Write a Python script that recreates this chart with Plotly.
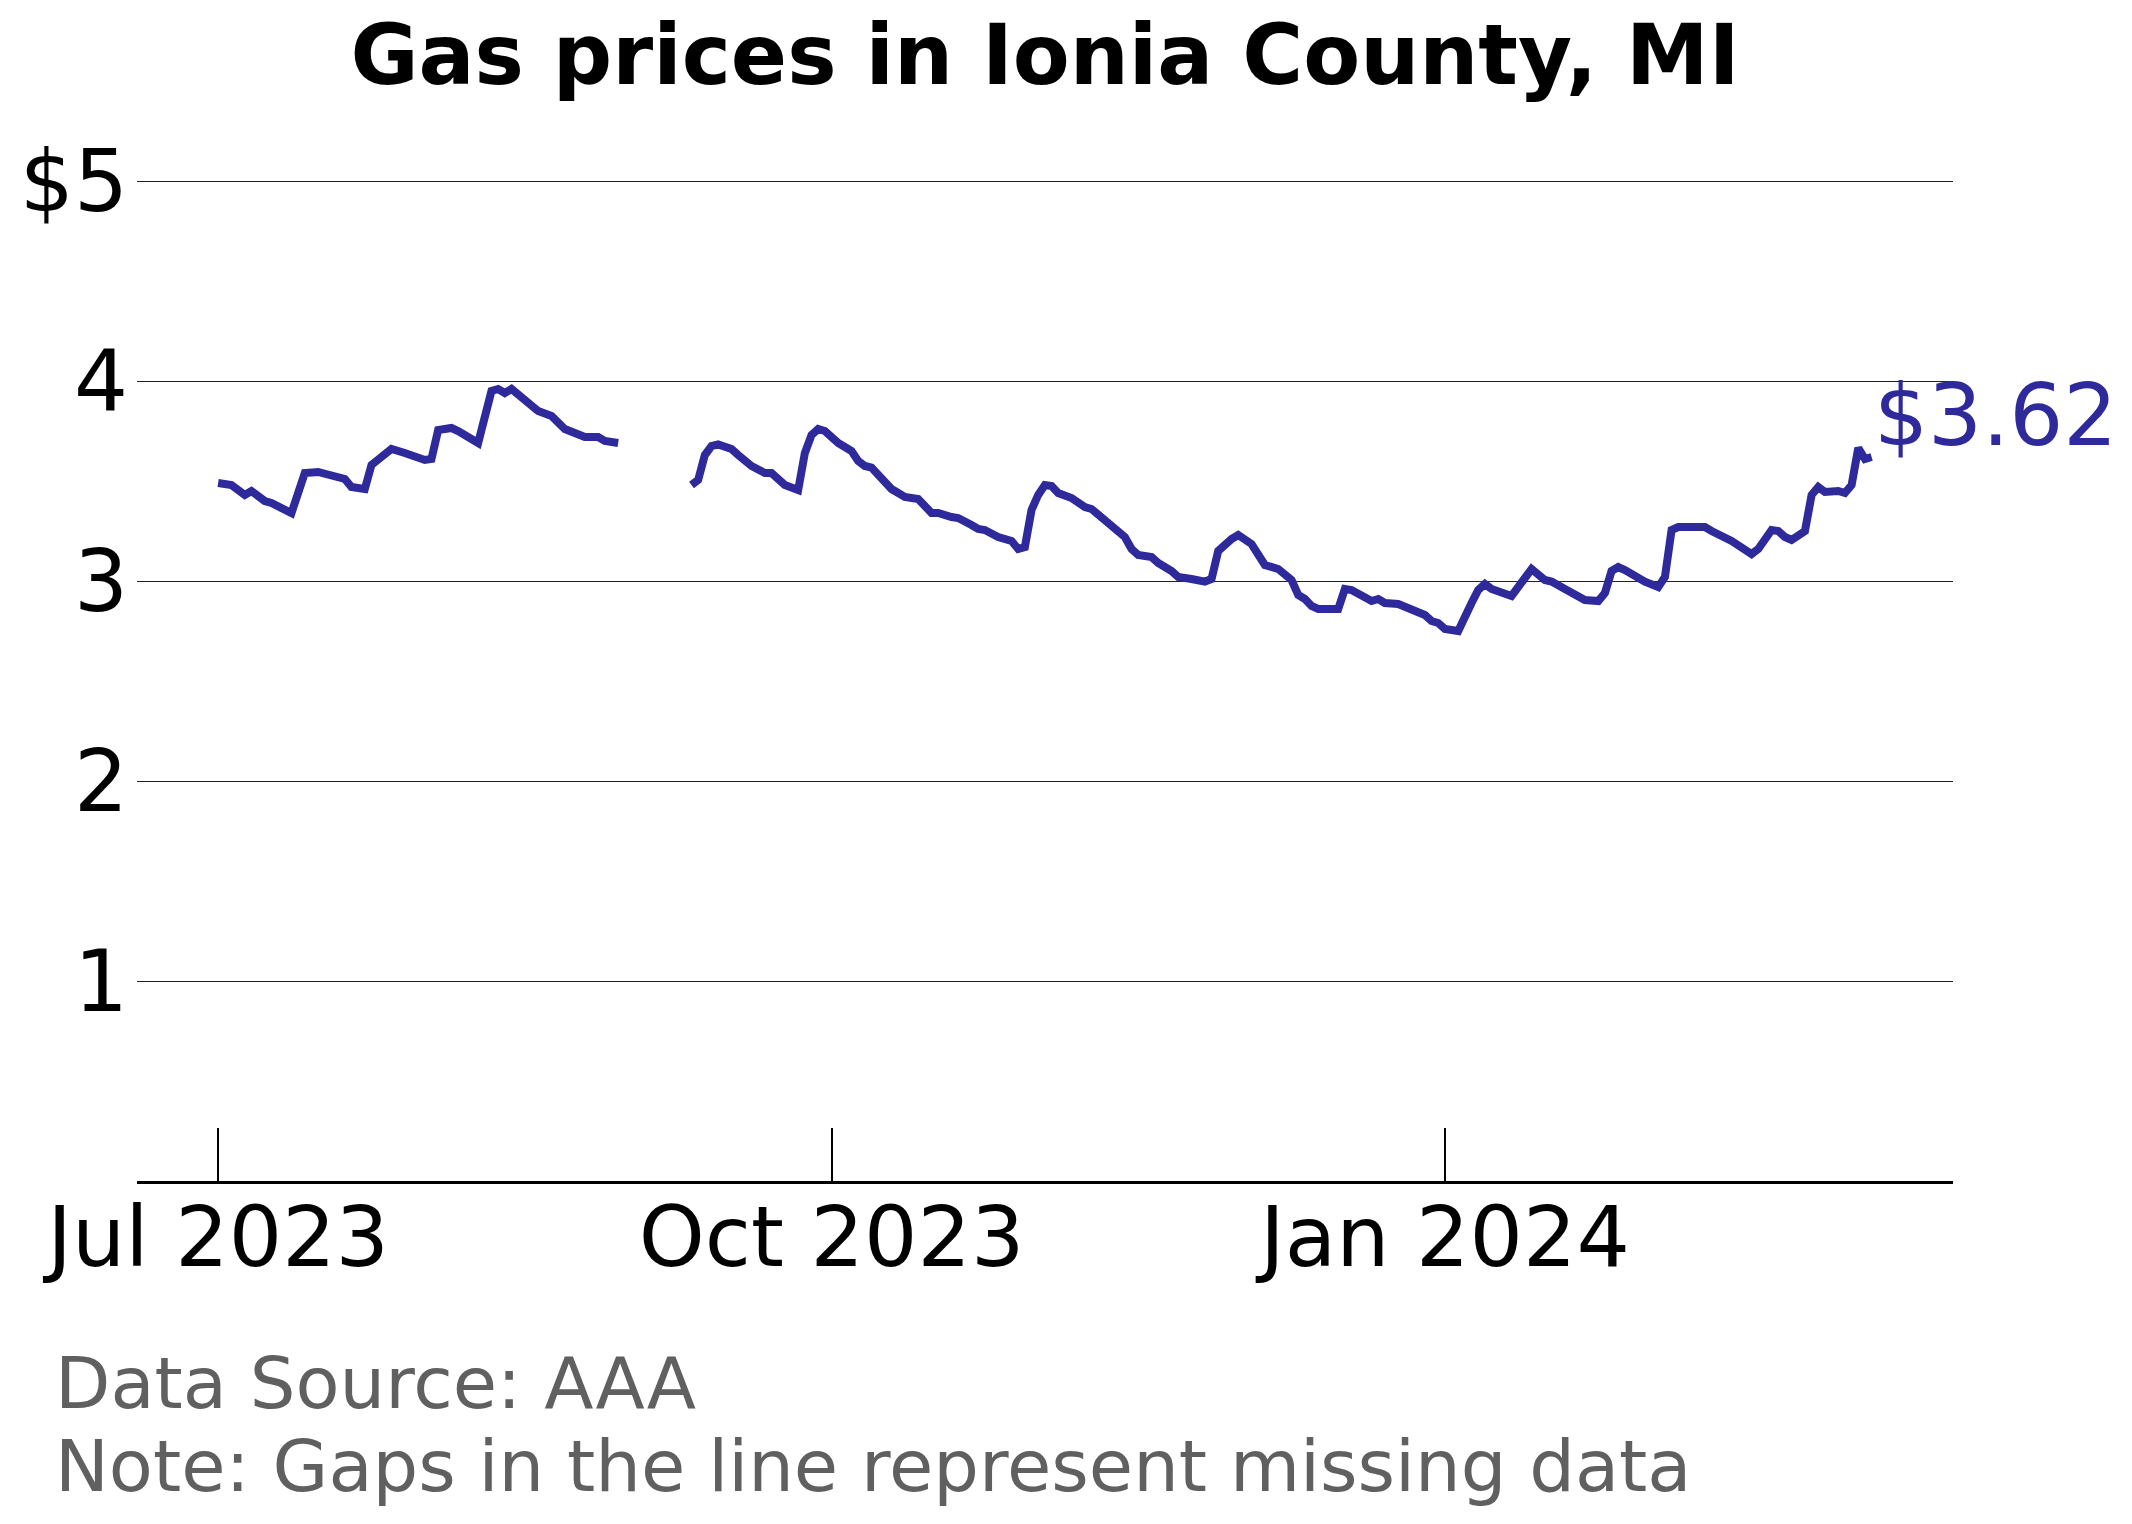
import plotly.graph_objects as go

# daily average regular gas price, Ionia County MI (AAA); None marks the data gap
dates = [
    "2023-07-01", "2023-07-03", "2023-07-05", "2023-07-06", "2023-07-08", "2023-07-09",
    "2023-07-12", "2023-07-14", "2023-07-16", "2023-07-18", "2023-07-20", "2023-07-21",
    "2023-07-23", "2023-07-24", "2023-07-25", "2023-07-27", "2023-07-29", "2023-08-01",
    "2023-08-02", "2023-08-03", "2023-08-05", "2023-08-06", "2023-08-09", "2023-08-11",
    "2023-08-12", "2023-08-13", "2023-08-14", "2023-08-16", "2023-08-18", "2023-08-20",
    "2023-08-22", "2023-08-25", "2023-08-27", "2023-08-28", "2023-08-30",
    "2023-09-05",
    "2023-09-10", "2023-09-11", "2023-09-12", "2023-09-13", "2023-09-14", "2023-09-16",
    "2023-09-17", "2023-09-19", "2023-09-21", "2023-09-22", "2023-09-24", "2023-09-26",
    "2023-09-27", "2023-09-28", "2023-09-29", "2023-09-30", "2023-10-02", "2023-10-04",
    "2023-10-05", "2023-10-06", "2023-10-07", "2023-10-10", "2023-10-12", "2023-10-14",
    "2023-10-16", "2023-10-17", "2023-10-19", "2023-10-20", "2023-10-22", "2023-10-23",
    "2023-10-24", "2023-10-26", "2023-10-28", "2023-10-29", "2023-10-30", "2023-10-31",
    "2023-11-01", "2023-11-02", "2023-11-03", "2023-11-04", "2023-11-06", "2023-11-08",
    "2023-11-09", "2023-11-12", "2023-11-13", "2023-11-14", "2023-11-15", "2023-11-16",
    "2023-11-18", "2023-11-19", "2023-11-21", "2023-11-22", "2023-11-24", "2023-11-26",
    "2023-11-27", "2023-11-28", "2023-11-30", "2023-12-01", "2023-12-03", "2023-12-04",
    "2023-12-05", "2023-12-07", "2023-12-09", "2023-12-10", "2023-12-11", "2023-12-12",
    "2023-12-13", "2023-12-16", "2023-12-17", "2023-12-18", "2023-12-21", "2023-12-22",
    "2023-12-23", "2023-12-25", "2023-12-27", "2023-12-29", "2023-12-30", "2023-12-31",
    "2024-01-01", "2024-01-03", "2024-01-05", "2024-01-06", "2024-01-07", "2024-01-08",
    "2024-01-11", "2024-01-13", "2024-01-14", "2024-01-16", "2024-01-17", "2024-01-19",
    "2024-01-22", "2024-01-24", "2024-01-25", "2024-01-26", "2024-01-27", "2024-01-28",
    "2024-01-30", "2024-01-31", "2024-02-02", "2024-02-03", "2024-02-04", "2024-02-05",
    "2024-02-07", "2024-02-09", "2024-02-10", "2024-02-13", "2024-02-16", "2024-02-17",
    "2024-02-19", "2024-02-20", "2024-02-21", "2024-02-22", "2024-02-24", "2024-02-25",
    "2024-02-26", "2024-02-27", "2024-02-29", "2024-03-01", "2024-03-02", "2024-03-03",
    "2024-03-04", "2024-03-05",
]
prices = [
    3.49, 3.48, 3.43, 3.45, 3.40, 3.39,
    3.34, 3.54, 3.545, 3.53, 3.51, 3.47,
    3.46, 3.58, 3.61, 3.66, 3.64, 3.605,
    3.61, 3.755, 3.765, 3.75, 3.69, 3.95,
    3.96, 3.94, 3.96, 3.905, 3.85, 3.825,
    3.76, 3.72, 3.72, 3.70, 3.69,
    None,
    3.48, 3.505, 3.63, 3.675, 3.683, 3.66,
    3.63, 3.575, 3.54, 3.54, 3.48, 3.455,
    3.64, 3.73, 3.76, 3.75, 3.69, 3.65,
    3.60, 3.575, 3.567, 3.46, 3.42, 3.41,
    3.34, 3.34, 3.32, 3.315, 3.28, 3.26,
    3.255, 3.22, 3.20, 3.16, 3.17, 3.355,
    3.43, 3.48, 3.475, 3.44, 3.415, 3.37,
    3.36, 3.28, 3.25, 3.22, 3.16, 3.13,
    3.12, 3.09, 3.05, 3.02, 3.01, 2.997,
    3.01, 3.15, 3.21, 3.23, 3.185, 3.13,
    3.08, 3.06, 3.005, 2.93, 2.91, 2.875,
    2.86, 2.86, 2.96, 2.955, 2.90, 2.91,
    2.89, 2.885, 2.855, 2.83, 2.80, 2.79,
    2.76, 2.75, 2.89, 2.955, 2.985, 2.96,
    2.925, 3.01, 3.06, 3.005, 2.997, 2.96,
    2.905, 2.90, 2.94, 3.05, 3.07, 3.055,
    3.01, 2.997, 2.97, 3.02, 3.255, 3.27,
    3.27, 3.27, 3.25, 3.20, 3.135, 3.16,
    3.255, 3.25, 3.22, 3.205, 3.25, 3.43,
    3.47, 3.445, 3.45, 3.44, 3.48, 3.665,
    3.61, 3.62,
]

y_ticks = [1, 2, 3, 4, 5]
y_labels = ["1", "2", "3", "4", "$5"]
x_ticks = ["2023-07-01", "2023-10-01", "2024-01-01"]
x_labels = ["Jul 2023", "Oct 2023", "Jan 2024"]

line_color = "#2e2a9c"
font = "DejaVu Sans"

fig = go.Figure()
fig.add_trace(go.Scatter(x=dates, y=prices, mode="lines", connectgaps=False,
                         line=dict(color=line_color, width=8), showlegend=False))

last_price = prices[-1]
fig.add_annotation(x=dates[-1], y=last_price, text=f"${last_price:.2f}",
                   xanchor="left", yanchor="bottom", xshift=0, yshift=-10,
                   showarrow=False, font=dict(family=font, size=85, color=line_color))

fig.add_annotation(text="Data Source: AAA", xref="paper", yref="paper",
                   x=-0.046, y=-0.152, xanchor="left", yanchor="top", showarrow=False,
                   font=dict(family=font, size=72, color="#606060"))
fig.add_annotation(text="Note: Gaps in the line represent missing data", xref="paper", yref="paper",
                   x=-0.046, y=-0.232, xanchor="left", yanchor="top", showarrow=False,
                   font=dict(family=font, size=72, color="#606060"))

# the page adds an 8px body margin, so the figure is laid out 8px up/left of the target
fig.update_layout(
    width=2132, height=1524,
    margin=dict(l=129, r=187, t=133, b=351),
    plot_bgcolor="white", paper_bgcolor="white",
    font=dict(family=font, color="black"),
    title=dict(text="<b>Gas prices in Ionia County, MI</b>", x=0.5, xref="paper",
               y=0.969, yanchor="middle", font=dict(family=font, size=83, color="black")),
)
fig.update_xaxes(range=["2023-06-18 20:00", "2024-03-17 05:00"], tickvals=x_ticks, ticktext=x_labels,
                 showgrid=False, showline=True, linecolor="black", linewidth=3,
                 ticks="inside", ticklen=53, tickwidth=1.5, tickcolor="black",
                 tickfont=dict(size=84), ticklabelstandoff=-19, zeroline=False)
fig.update_yaxes(range=[0, 5.2], tickvals=y_ticks, ticktext=y_labels,
                 showgrid=True, gridcolor="#222222", gridwidth=1.2, showline=False,
                 ticks="", tickfont=dict(size=85), ticklabelstandoff=8, zeroline=False)

fig.write_html("out.html")
